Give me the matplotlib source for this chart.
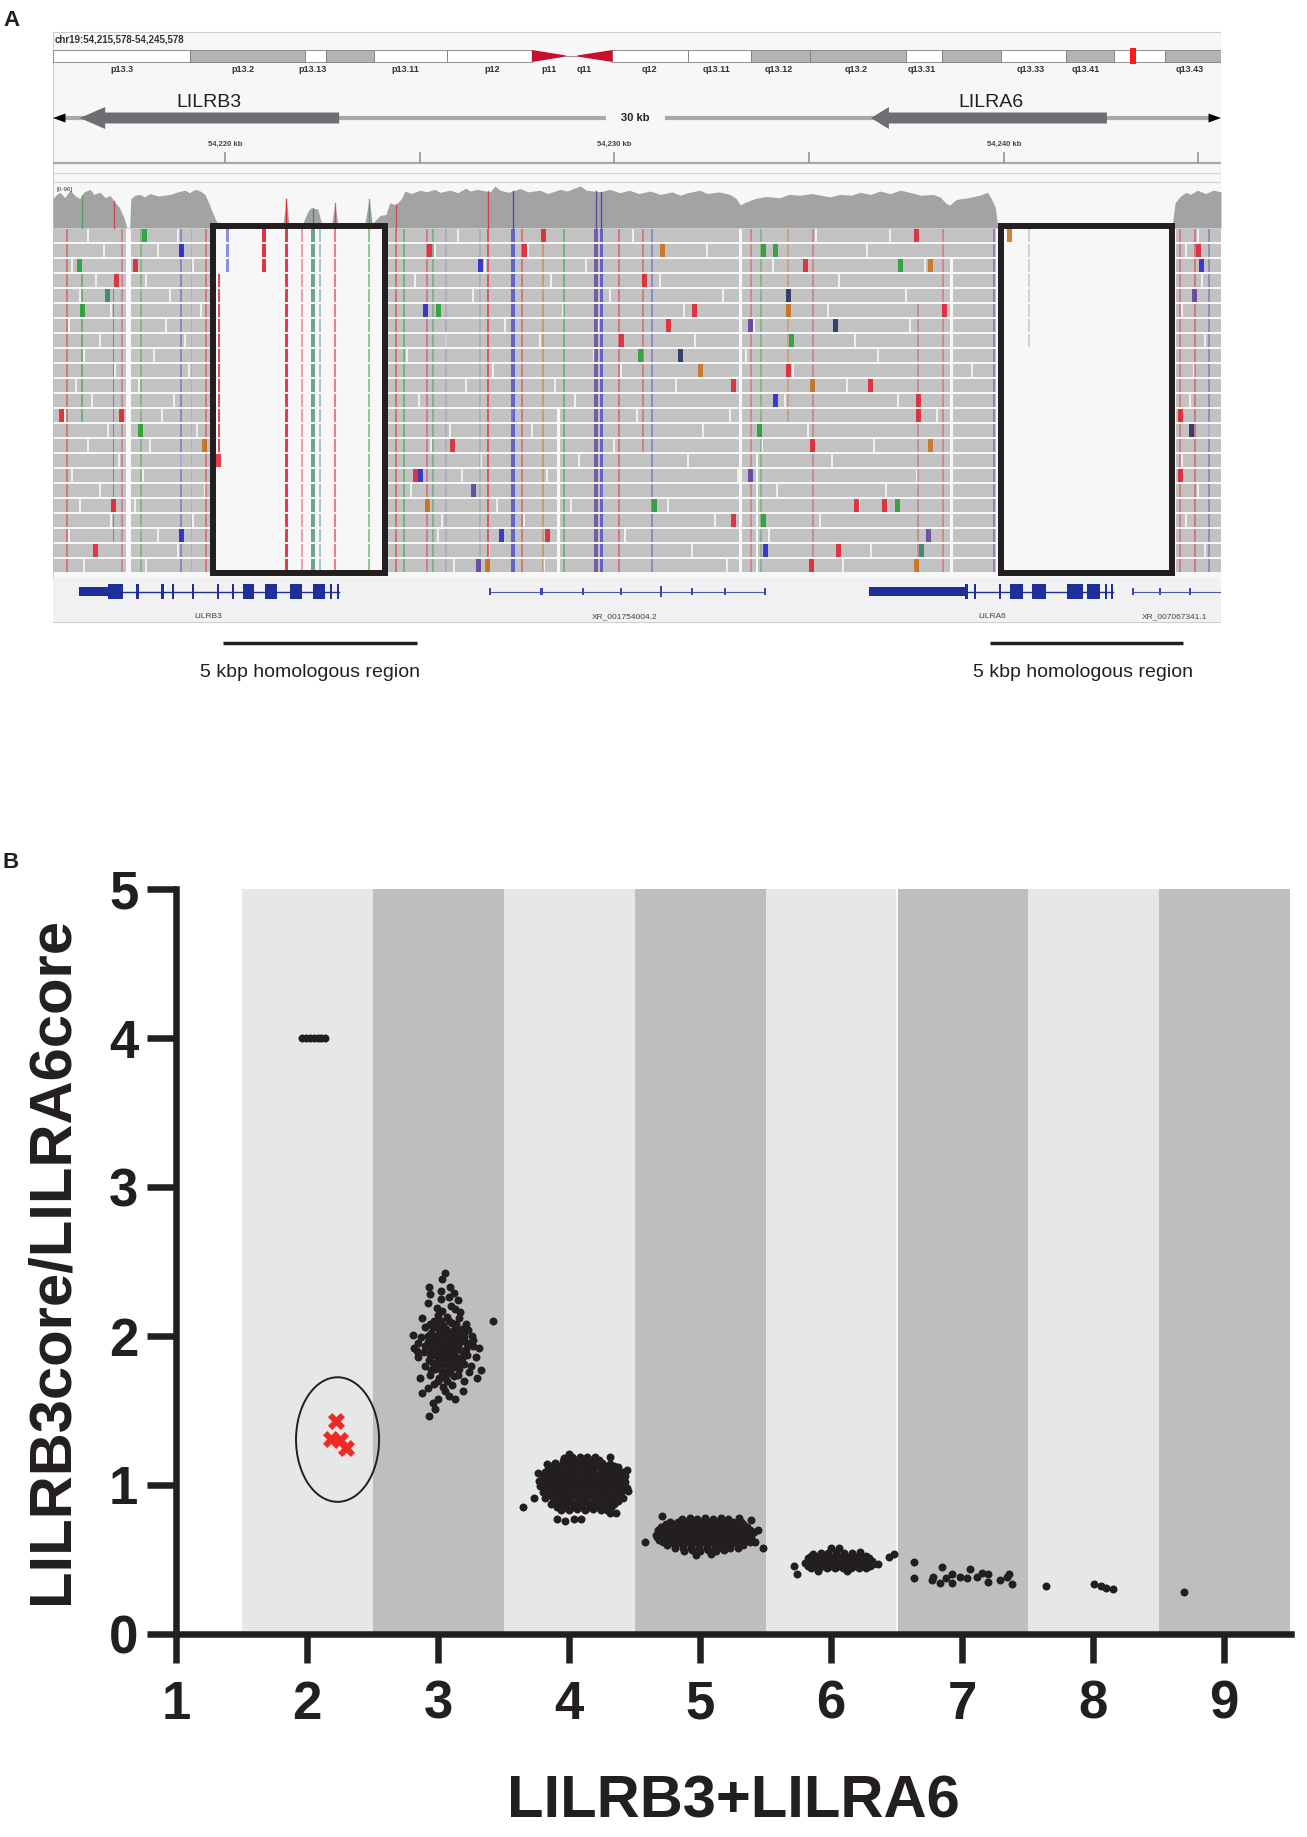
import numpy as np
import matplotlib
matplotlib.use("Agg")
import matplotlib.pyplot as plt
from matplotlib.patches import Rectangle, Polygon, Ellipse

plt.rcParams['font.family'] = ['Liberation Sans', 'DejaVu Sans']

W, H = 1307, 1837
INK = '#231f20'

# ===================== Panel A data (kb from chr19:54,215,578) =====================
region_label = "chr19:54,215,578-54,245,578"
ruler_ticks_kb = [4.422, 9.422, 14.422, 19.422, 24.422, 29.422]
ruler_tick_labels = ["54,220 kb", "", "54,230 kb", "", "54,240 kb", ""]

# ideogram bands as fraction of chromosome 19
ideo_bands = [(0.000, 0.117, 'gneg'), (0.117, 0.216, 'gpos'), (0.216, 0.234, 'gneg'),
              (0.234, 0.275, 'gpos'), (0.275, 0.337, 'gneg'), (0.337, 0.410, 'gneg'),
              (0.479, 0.544, 'gneg'), (0.544, 0.598, 'gneg'), (0.598, 0.648, 'gpos'),
              (0.648, 0.730, 'gpos'), (0.730, 0.761, 'gneg'), (0.761, 0.812, 'gpos'),
              (0.812, 0.867, 'gneg'), (0.867, 0.908, 'gpos'), (0.908, 0.952, 'gneg'),
              (0.952, 1.000, 'gpos')]
centromere = (0.410, 0.444, 0.479)
current_view = (0.922, 0.927)
ideo_label_names = ['p13.3', 'p13.2', 'p13.13', 'p13.11', 'p12', 'p11', 'q11', 'q12',
                    'q13.11', 'q13.12', 'q13.2', 'q13.31', 'q13.33', 'q13.41', 'q13.43']
ideo_label_pos = [0.059, 0.163, 0.222, 0.302, 0.376, 0.425, 0.455, 0.511,
                  0.568, 0.621, 0.688, 0.744, 0.837, 0.884, 0.973]

# gene arrows: name, tail, head base, tip, label position
arrow_genes = [('LILRB3', 7.35, 1.34, 0.69, 4.01), ('LILRA6', 27.07, 21.47, 21.01, 24.10)]

# gene models
gene_names = ['LILRB3', 'XR_001754004.2', 'LILRA6', 'XR_007067341.1']
gene_spans = [(0.67, 7.35), (11.23, 18.29), (20.96, 27.23), (27.74, 30.0)]
gene_label_kb = [3.98, 14.69, 24.12, 28.82]
gene_utrs = [[(0.67, 1.41)], [], [(20.96, 23.43)], []]
gene_exons = [[(1.41, 1.80), (2.14, 2.20), (2.78, 2.84), (3.05, 3.11), (3.57, 3.63), (4.21, 4.27),
               (4.59, 4.65), (4.88, 5.16), (5.45, 5.75), (6.09, 6.40), (6.67, 6.99), (7.11, 7.17),
               (7.29, 7.35)],
              [],
              [(23.43, 23.49), (23.65, 23.71), (24.30, 24.36), (24.58, 24.92), (25.15, 25.51),
               (26.05, 26.46), (26.56, 26.89), (27.02, 27.08), (27.17, 27.23)],
              []]
nc_exons = [[], [11.23, 12.55, 13.61, 14.59, 15.61, 16.41, 17.26, 18.29], [], [27.74, 28.44, 29.20]]

homolog_regions = [(4.37, 9.35), (24.07, 29.03)]
homolog_text_kb = [6.60, 26.46]
boxes_kb = [(4.12, 8.53), (24.34, 28.73)]

# coverage profile (kb, fraction of track height)
cov_kb = [0, 0.1, 0.18, 0.3, 0.44, 0.55, 0.69, 0.8, 0.95, 1.05, 1.21, 1.35, 1.46, 1.6, 1.7, 1.82,
          1.90, 1.97, 2.0, 2.1, 2.23, 2.35, 2.49, 2.7, 3.01, 3.2, 3.39, 3.5, 3.65, 3.78, 3.90, 4.0,
          4.08, 4.2, 4.35, 4.6, 5.3, 5.42, 5.5, 5.9, 5.99, 6.07, 6.4, 6.55, 6.62, 6.80, 6.9, 7.15,
          7.24, 7.32, 8.0, 8.12, 8.2, 8.4, 8.55, 8.65, 8.8, 8.95, 9.04, 9.2, 9.43, 9.6, 9.8, 9.94,
          10.2, 10.4, 10.6, 10.71, 10.9, 11.23, 11.35, 11.48, 11.7, 12.0, 12.2, 12.51, 12.7, 13.02,
          13.2, 13.54, 13.7, 14.05, 14.3, 14.56, 14.8, 15.05, 15.34, 15.6, 15.9, 16.11, 16.3, 16.62,
          16.8, 17.1, 17.39, 17.55, 17.65, 17.8, 18.03, 18.3, 18.67, 18.9, 19.19, 19.5, 19.96, 20.2,
          20.5, 20.73, 21.0, 21.24, 21.5, 21.76, 22.0, 22.3, 22.6, 22.78, 22.95, 23.04, 23.2, 23.5,
          23.8, 24.0, 24.1, 24.2, 24.27, 28.74, 28.82, 28.95, 29.1, 29.21, 29.4, 29.6, 29.8, 30.0]
cov_frac = [0.70, 0.80, 0.85, 0.72, 0.90, 0.78, 0.70, 0.86, 0.92, 0.80, 0.85, 0.72, 0.78, 0.60, 0.50, 0.25,
            0.0, 0.02, 0.70, 0.78, 0.80, 0.74, 0.82, 0.76, 0.80, 0.86, 0.90, 0.84, 0.92, 0.88, 0.80, 0.60,
            0.40, 0.15, 0.05, 0.02, 0.02, 0.10, 0.02, 0.03, 0.68, 0.03, 0.08, 0.40, 0.48, 0.45, 0.10, 0.05,
            0.59, 0.05, 0.05, 0.70, 0.10, 0.30, 0.32, 0.60, 0.55, 0.70, 0.88, 0.82, 0.90, 0.86, 0.92, 0.85,
            0.90, 0.84, 0.95, 0.88, 0.92, 0.86, 1.00, 0.90, 0.85, 0.94, 0.86, 0.90, 0.82, 0.92,
            0.88, 1.00, 0.90, 0.86, 0.92, 0.84, 0.90, 0.82, 0.88, 0.80, 0.86, 0.78, 0.84, 0.90,
            0.82, 0.86, 0.80, 0.70, 0.55, 0.62, 0.70, 0.75, 0.72, 0.80, 0.78, 0.82, 0.74, 0.80,
            0.78, 0.85, 0.80, 0.88, 0.82, 0.90, 0.85, 0.78, 0.80, 0.74, 0.58, 0.55, 0.68, 0.72,
            0.78, 0.85, 0.70, 0.50, 0.0, 0.0, 0.60, 0.75, 0.85, 0.80, 0.90, 0.82, 0.90, 0.86]

n_rows = 23
read_spans = [(0.0, 4.10), (8.60, 24.22), (28.84, 30.0)]
read_gaps = [(1.88, 2.00, 0, 22), (12.95, 13.02, 12, 22), (17.62, 17.70, 0, 22),
             (18.05, 18.12, 15, 22), (23.05, 23.12, 2, 22)]
row_breaks = [
    [0.9, 3.2, 10.4, 14.9, 19.6, 21.5, 29.4], [1.3, 2.7, 9.8, 12.2, 16.8, 20.9, 29.1],
    [0.5, 3.6, 11.1, 13.7, 18.5, 22.4], [1.1, 2.4, 9.3, 12.8, 15.6, 20.2, 29.5],
    [0.7, 3.0, 10.8, 14.3, 17.2, 21.9], [1.5, 3.8, 9.6, 13.1, 16.2, 19.9, 29.0],
    [0.4, 2.9, 11.6, 14.0, 18.0, 22.0], [1.2, 3.4, 10.1, 12.5, 16.5, 20.6, 29.6],
    [0.8, 2.6, 9.1, 13.9, 17.8, 21.2], [1.6, 3.5, 11.3, 14.6, 19.0, 23.6, 29.3],
    [0.6, 2.2, 10.6, 12.9, 16.0, 20.4], [1.0, 3.1, 9.4, 13.4, 18.8, 21.7, 29.2],
    [0.3, 2.8, 11.8, 15.0, 17.4, 22.7], [1.4, 3.7, 10.2, 12.3, 16.7, 19.4, 29.7],
    [0.9, 2.5, 9.7, 14.4, 18.2, 21.1], [1.7, 3.3, 11.0, 13.5, 16.3, 20.0, 29.0],
    [0.5, 2.3, 10.5, 12.7, 17.6, 22.2], [1.2, 3.9, 9.2, 14.1, 18.6, 21.4, 29.4],
    [0.7, 2.1, 11.4, 13.3, 15.8, 20.7], [1.5, 3.6, 10.0, 12.1, 17.0, 19.7, 29.1],
    [0.4, 2.7, 9.9, 14.7, 18.4, 22.5], [1.1, 3.2, 11.2, 13.0, 16.4, 21.0, 29.6],
    [0.8, 2.4, 10.3, 12.6, 17.3, 20.3]]

base_colors = {'A': '#1f9e2c', 'C': '#2222cc', 'G': '#c86f10', 'T': '#e01f2d',
               'P': '#5a3c9c', 'N': '#8a8aa0', 'teal': '#2e8070', 'navy': '#1f2a5a'}

# mismatch columns: kb, base, first row, last row, width px, opacity
mm_columns = [
    (0.36, 'T', 0, 22, 1.5, 0.45), (0.75, 'A', 3, 12, 2, 0.5), (1.56, 'T', 4, 20, 1.5, 0.6),
    (1.77, 'T', 0, 22, 2, 0.35), (2.26, 'A', 0, 22, 2, 0.35), (3.29, 'C', 0, 22, 1.5, 0.35),
    (3.56, 'N', 0, 22, 1.5, 0.3), (3.93, 'T', 0, 22, 2, 0.45), (4.26, 'T', 3, 14, 2.5, 0.8),
    (4.47, 'C', 0, 2, 3, 0.5), (5.42, 'T', 0, 2, 4, 0.9), (5.99, 'T', 0, 22, 3, 0.85),
    (6.40, 'T', 0, 22, 2, 0.4), (6.69, 'teal', 0, 22, 4, 0.7), (6.86, 'teal', 0, 22, 2, 0.4),
    (7.24, 'T', 0, 22, 2.5, 0.55), (8.12, 'A', 0, 22, 2.5, 0.5), (8.81, 'T', 0, 22, 2, 0.5),
    (9.02, 'A', 0, 22, 2, 0.45), (9.61, 'T', 0, 22, 2, 0.4), (9.77, 'A', 0, 22, 2, 0.4),
    (10.10, 'N', 0, 22, 2, 0.35), (10.97, 'N', 0, 22, 2, 0.35), (11.17, 'T', 0, 22, 2.5, 0.65),
    (11.81, 'C', 0, 22, 4, 0.6), (12.05, 'T', 0, 22, 2, 0.45), (12.59, 'G', 0, 22, 2, 0.45),
    (13.13, 'A', 0, 22, 2, 0.45), (13.94, 'P', 0, 22, 4, 0.75), (14.08, 'C', 0, 22, 3, 0.6),
    (14.54, 'T', 0, 22, 2, 0.45), (15.16, 'T', 0, 14, 2, 0.4), (15.39, 'C', 0, 22, 2, 0.35),
    (17.92, 'T', 0, 22, 2, 0.35), (18.19, 'A', 0, 22, 2, 0.35), (18.88, 'G', 0, 12, 2, 0.35),
    (19.52, 'T', 0, 22, 2, 0.35), (22.22, 'T', 5, 22, 2, 0.35), (22.86, 'T', 0, 22, 2, 0.35),
    (24.16, 'P', 0, 22, 2, 0.45), (25.07, 'N', 0, 7, 2, 0.35), (28.95, 'T', 0, 22, 2, 0.4),
    (29.32, 'T', 0, 22, 2, 0.45), (29.69, 'P', 0, 22, 2, 0.4)]

# single mismatches: kb, row, base
mm_single = [
    (2.36, 0, 'A'), (3.29, 1, 'C'), (2.11, 2, 'T'), (0.69, 2, 'A'), (1.62, 3, 'T'), (1.39, 4, 'teal'),
    (0.75, 5, 'A'), (9.56, 5, 'C'), (9.89, 5, 'A'), (10.97, 2, 'C'), (9.66, 1, 'T'), (12.10, 1, 'T'),
    (12.59, 0, 'T'), (15.18, 3, 'T'), (14.59, 7, 'T'), (15.08, 8, 'A'), (1.77, 12, 'T'), (0.21, 12, 'T'),
    (2.26, 13, 'A'), (3.88, 14, 'G'), (10.25, 14, 'T'), (4.26, 15, 'T'), (9.45, 16, 'C'), (9.30, 16, 'T'),
    (10.79, 17, 'P'), (1.56, 18, 'T'), (9.61, 18, 'G'), (3.29, 20, 'C'), (11.51, 20, 'C'), (12.69, 20, 'T'),
    (1.08, 21, 'T'), (10.92, 22, 'P'), (11.17, 22, 'G'),
    (22.17, 0, 'T'), (15.66, 1, 'G'), (18.24, 1, 'A'), (18.56, 1, 'A'), (19.32, 2, 'T'), (21.78, 2, 'A'),
    (22.55, 2, 'G'), (18.88, 4, 'navy'), (16.47, 5, 'T'), (18.88, 5, 'G'), (22.91, 5, 'T'), (15.82, 6, 'T'),
    (17.92, 6, 'P'), (20.11, 6, 'navy'), (18.98, 7, 'A'), (16.13, 8, 'navy'), (16.62, 9, 'G'),
    (18.88, 9, 'T'), (17.49, 10, 'T'), (19.52, 10, 'G'), (20.99, 10, 'T'), (18.57, 11, 'C'),
    (22.22, 11, 'T'), (22.22, 12, 'T'), (18.14, 13, 'A'), (19.52, 14, 'T'), (22.55, 14, 'G'),
    (17.92, 16, 'P'), (15.44, 18, 'A'), (20.65, 18, 'T'), (21.36, 18, 'T'), (21.68, 18, 'A'),
    (18.24, 19, 'A'), (17.49, 19, 'T'), (22.49, 20, 'P'), (18.29, 21, 'C'), (20.18, 21, 'T'),
    (22.32, 21, 'teal'), (19.47, 22, 'T'), (22.17, 22, 'G'),
    (29.43, 1, 'T'), (29.49, 2, 'C'), (29.32, 4, 'P'), (28.95, 12, 'T'), (28.95, 16, 'T'),
    (29.25, 13, 'navy'), (24.58, 0, 'G')]

# ===================== Panel B data =====================
pt_4 = [(1.96, 4.0), (1.99, 4.0), (2.02, 4.0), (2.05, 4.0), (2.08, 4.0), (2.11, 4.0), (2.14, 4.0)]
red_x = [(2.22, 1.43), (2.18, 1.31), (2.25, 1.30), (2.30, 1.25)]
c3 = [(3.05, 2.42), (3.03, 2.38), (2.93, 2.33), (2.94, 2.28), (3.02, 2.30), (3.12, 2.29), (3.08, 2.26),
      (3.15, 2.24), (2.92, 2.22), (3.03, 2.17), (3.42, 2.10), (2.81, 2.01), (2.82, 1.92), (3.31, 1.92),
      (3.33, 1.77), (3.30, 1.72), (2.88, 1.62), (3.19, 1.63), (2.96, 1.55), (2.93, 1.46), (3.05, 1.63),
      (2.85, 1.86), (3.23, 2.04), (3.21, 2.08),
      (3.10, 2.20), (3.13, 2.18), (3.00, 2.14), (3.07, 2.13), (3.16, 2.12), (2.97, 2.10), (3.11, 2.09),
      (3.04, 2.07), (2.90, 2.06), (3.18, 2.05), (3.01, 2.04), (3.08, 2.03), (2.95, 2.02), (3.14, 2.01),
      (3.26, 2.00), (2.87, 1.99), (3.05, 1.99), (3.11, 1.98), (2.98, 1.97), (3.20, 1.97), (2.92, 1.96),
      (3.03, 1.95), (3.09, 1.95), (3.15, 1.94), (2.85, 1.95), (3.00, 1.93), (3.27, 1.93), (2.95, 1.92),
      (3.06, 1.91), (3.12, 1.90), (3.18, 1.90), (2.89, 1.89), (3.02, 1.89), (3.08, 1.88), (2.97, 1.87),
      (3.22, 1.87), (3.14, 1.86), (3.04, 1.85), (2.93, 1.84), (3.10, 1.84), (3.00, 1.82), (3.17, 1.82),
      (3.06, 1.81), (2.90, 1.80), (3.12, 1.79), (3.25, 1.80), (2.98, 1.78), (3.03, 1.76), (3.09, 1.75),
      (3.15, 1.74), (2.94, 1.74), (3.01, 1.72), (3.07, 1.70), (3.20, 1.70), (2.97, 1.68), (3.11, 1.67),
      (3.04, 1.66), (2.92, 1.65), (3.08, 1.60), (3.00, 1.58), (3.13, 1.58), (2.98, 1.51), (3.02, 2.25),
      (3.09, 2.33), (2.99, 2.19), (3.17, 2.16), (2.88, 2.12), (3.22, 1.95), (3.29, 1.86), (2.84, 1.90),
      (3.24, 1.76), (3.16, 1.78), (2.86, 1.72), (3.27, 1.97), (2.96, 2.06), (3.13, 2.05), (3.06, 2.00),
      (3.00, 1.99), (3.10, 1.93), (3.05, 1.87), (2.99, 1.93), (3.07, 1.96), (3.12, 2.01), (3.02, 2.02),
      (3.02, 2.10), (3.08, 2.10), (3.14, 2.08), (2.94, 2.08), (3.00, 2.06), (3.06, 2.05), (3.12, 2.04),
      (3.18, 2.02), (2.92, 2.00), (2.98, 2.00), (3.04, 2.02), (3.09, 2.00), (3.15, 1.99), (3.20, 2.00),
      (2.95, 1.96), (3.01, 1.96), (3.05, 1.94), (3.12, 1.95), (3.17, 1.96), (2.90, 1.93), (2.97, 1.90),
      (3.03, 1.91), (3.09, 1.91), (3.15, 1.91), (3.21, 1.91), (2.94, 1.88), (3.00, 1.86), (3.06, 1.85),
      (3.12, 1.86), (3.18, 1.85), (2.96, 1.82), (3.02, 1.80), (3.08, 1.79), (3.14, 1.81), (3.20, 1.81),
      (2.95, 1.77), (3.06, 1.76), (3.12, 1.73), (3.00, 1.70), (3.05, 1.72)]
c4 = [(4.00, 1.21), (4.02, 1.19), (4.08, 1.19), (4.14, 1.19), (4.20, 1.19), (4.31, 1.19), (3.96, 1.18),
      (3.89, 1.15), (3.95, 1.16), (4.01, 1.15), (4.07, 1.16), (4.13, 1.15), (4.19, 1.16), (4.25, 1.15),
      (4.31, 1.14), (3.83, 1.14),
      (3.84, 1.11), (3.90, 1.11), (3.96, 1.12), (4.02, 1.11), (4.08, 1.12), (4.14, 1.11), (4.20, 1.12),
      (4.26, 1.11), (4.32, 1.11), (4.37, 1.12), (4.44, 1.10),
      (3.79, 1.07), (3.85, 1.07), (3.91, 1.08), (3.97, 1.07), (4.03, 1.08), (4.09, 1.07), (4.15, 1.08),
      (4.21, 1.07), (4.27, 1.08), (4.33, 1.07), (4.39, 1.07), (4.43, 1.06), (3.76, 1.08),
      (3.77, 1.03), (3.83, 1.03), (3.89, 1.04), (3.95, 1.03), (4.01, 1.04), (4.07, 1.03), (4.13, 1.04),
      (4.19, 1.03), (4.25, 1.04), (4.31, 1.03), (4.37, 1.03), (4.43, 1.02),
      (3.78, 0.99), (3.84, 0.99), (3.90, 1.00), (3.96, 0.99), (4.02, 1.00), (4.08, 0.99), (4.14, 1.00),
      (4.20, 0.99), (4.26, 1.00), (4.32, 0.99), (4.38, 0.99), (4.44, 0.98), (4.45, 0.96),
      (3.80, 0.95), (3.86, 0.95), (3.92, 0.96), (3.98, 0.95), (4.04, 0.96), (4.10, 0.95), (4.16, 0.96),
      (4.22, 0.95), (4.28, 0.96), (4.34, 0.95), (4.40, 0.95), (3.73, 0.91),
      (3.82, 0.91), (3.88, 0.91), (3.94, 0.92), (4.00, 0.91), (4.06, 0.92), (4.12, 0.91), (4.18, 0.92),
      (4.24, 0.91), (4.30, 0.92), (4.36, 0.91), (4.41, 0.91),
      (3.86, 0.87), (3.92, 0.87), (3.98, 0.88), (4.04, 0.87), (4.10, 0.88), (4.16, 0.87), (4.22, 0.88),
      (4.28, 0.87), (4.34, 0.87),
      (3.94, 0.83), (4.00, 0.83), (4.06, 0.84), (4.12, 0.83), (4.18, 0.84), (4.24, 0.83), (4.29, 0.83),
      (3.65, 0.85), (3.91, 0.77), (3.97, 0.76), (4.04, 0.77), (4.09, 0.77), (4.31, 0.81), (4.36, 0.81),
      (3.99, 1.17), (4.05, 1.17), (4.11, 1.17), (4.17, 1.17), (4.23, 1.17),
      (3.86, 1.13), (3.92, 1.13), (3.98, 1.13), (4.04, 1.13), (4.10, 1.13), (4.16, 1.13), (4.22, 1.13),
      (4.28, 1.13), (4.34, 1.13),
      (3.82, 1.09), (3.88, 1.09), (3.94, 1.09), (4.00, 1.09), (4.06, 1.09), (4.12, 1.09), (4.18, 1.09),
      (4.24, 1.09), (4.30, 1.09), (4.36, 1.09), (4.41, 1.09),
      (3.80, 1.05), (3.86, 1.05), (3.92, 1.05), (3.98, 1.05), (4.04, 1.05), (4.10, 1.05), (4.16, 1.05),
      (4.22, 1.05), (4.28, 1.05), (4.34, 1.05), (4.40, 1.05),
      (3.81, 1.01), (3.87, 1.01), (3.93, 1.01), (3.99, 1.01), (4.05, 1.01), (4.11, 1.01), (4.17, 1.01),
      (4.23, 1.01), (4.29, 1.01), (4.35, 1.01), (4.41, 1.01),
      (3.83, 0.97), (3.89, 0.97), (3.95, 0.97), (4.01, 0.97), (4.07, 0.97), (4.13, 0.97), (4.19, 0.97),
      (4.25, 0.97), (4.31, 0.97), (4.37, 0.97), (4.42, 0.97),
      (3.85, 0.93), (3.91, 0.93), (3.97, 0.93), (4.03, 0.93), (4.09, 0.93), (4.15, 0.93), (4.21, 0.93),
      (4.27, 0.93), (4.33, 0.93), (4.38, 0.93),
      (3.89, 0.89), (3.95, 0.89), (4.01, 0.89), (4.07, 0.89), (4.13, 0.89), (4.19, 0.89), (4.25, 0.89),
      (4.31, 0.89), (4.37, 0.89),
      (3.91, 0.85), (3.97, 0.85), (4.03, 0.85), (4.09, 0.85), (4.15, 0.85), (4.21, 0.85), (4.27, 0.85),
      (4.32, 0.85)]
c5 = [(4.71, 0.79), (4.86, 0.77), (4.92, 0.78), (4.98, 0.77), (5.04, 0.78), (5.10, 0.77), (5.16, 0.78),
      (5.21, 0.77), (5.30, 0.78), (5.39, 0.765),
      (4.70, 0.72), (4.74, 0.735), (4.80, 0.74), (4.86, 0.735), (4.92, 0.74), (4.98, 0.735), (5.04, 0.74),
      (5.10, 0.735), (5.16, 0.74), (5.22, 0.735), (5.28, 0.74), (5.33, 0.735),
      (4.68, 0.70), (4.74, 0.70), (4.80, 0.705), (4.86, 0.70), (4.92, 0.705), (4.98, 0.70), (5.04, 0.705),
      (5.10, 0.70), (5.16, 0.705), (5.22, 0.70), (5.28, 0.705), (5.34, 0.70), (5.38, 0.70), (5.44, 0.70),
      (4.66, 0.665), (4.72, 0.665), (4.78, 0.67), (4.84, 0.665), (4.90, 0.67), (4.96, 0.665), (5.02, 0.67),
      (5.08, 0.665), (5.14, 0.67), (5.20, 0.665), (5.26, 0.67), (5.32, 0.665), (5.38, 0.665),
      (4.58, 0.62), (4.69, 0.63), (4.75, 0.635), (4.81, 0.63), (4.87, 0.635), (4.93, 0.63), (4.99, 0.635),
      (5.05, 0.63), (5.11, 0.635), (5.17, 0.63), (5.23, 0.635), (5.29, 0.63), (5.35, 0.63), (5.42, 0.62),
      (4.75, 0.595), (4.81, 0.60), (4.87, 0.595), (4.93, 0.60), (4.99, 0.595), (5.05, 0.60), (5.11, 0.595),
      (5.17, 0.60), (5.23, 0.595), (5.29, 0.60), (5.33, 0.595), (5.48, 0.58),
      (4.88, 0.56), (4.94, 0.565), (5.00, 0.56), (5.06, 0.565), (5.12, 0.56), (5.18, 0.565), (4.97, 0.53),
      (5.08, 0.54),
      (4.77, 0.75), (4.83, 0.75), (4.89, 0.75), (4.95, 0.75), (5.01, 0.75), (5.07, 0.75), (5.13, 0.75),
      (5.19, 0.75), (5.25, 0.75), (5.31, 0.75),
      (4.71, 0.72), (4.77, 0.72), (4.83, 0.72), (4.89, 0.72), (4.95, 0.72), (5.01, 0.72), (5.07, 0.72),
      (5.13, 0.72), (5.19, 0.72), (5.25, 0.72), (5.31, 0.72), (5.36, 0.72),
      (4.69, 0.685), (4.75, 0.685), (4.81, 0.685), (4.87, 0.685), (4.93, 0.685), (4.99, 0.685),
      (5.05, 0.685), (5.11, 0.685), (5.17, 0.685), (5.23, 0.685), (5.29, 0.685), (5.35, 0.685),
      (5.41, 0.685),
      (4.67, 0.65), (4.73, 0.65), (4.79, 0.65), (4.85, 0.65), (4.91, 0.65), (4.97, 0.65), (5.03, 0.65),
      (5.09, 0.65), (5.15, 0.65), (5.21, 0.65), (5.27, 0.65), (5.33, 0.65), (5.39, 0.65),
      (4.72, 0.615), (4.78, 0.615), (4.84, 0.615), (4.90, 0.615), (4.96, 0.615), (5.02, 0.615),
      (5.08, 0.615), (5.14, 0.615), (5.20, 0.615), (5.26, 0.615), (5.32, 0.615), (5.38, 0.615),
      (4.81, 0.58), (4.87, 0.58), (4.93, 0.58), (4.99, 0.58), (5.05, 0.58), (5.11, 0.58), (5.17, 0.58),
      (5.23, 0.58), (5.29, 0.58)]
c6 = [(6.00, 0.58), (6.06, 0.575),
      (5.86, 0.54), (5.92, 0.545), (5.98, 0.545), (6.04, 0.55), (6.10, 0.545), (6.16, 0.545), (6.22, 0.55),
      (5.82, 0.51), (5.88, 0.51), (5.94, 0.515), (6.00, 0.51), (6.06, 0.515), (6.12, 0.51), (6.18, 0.515),
      (6.24, 0.51), (6.29, 0.51),
      (5.80, 0.475), (5.86, 0.475), (5.92, 0.48), (5.98, 0.475), (6.04, 0.48), (6.10, 0.475), (6.16, 0.48),
      (6.22, 0.475), (6.28, 0.475), (6.32, 0.47), (6.36, 0.47),
      (5.85, 0.44), (5.91, 0.44), (5.97, 0.445), (6.03, 0.44), (6.09, 0.445), (6.15, 0.44), (6.21, 0.445),
      (6.27, 0.44), (5.90, 0.42), (6.12, 0.425), (5.72, 0.456), (5.74, 0.40), (6.44, 0.52), (6.48, 0.54),
      (5.85, 0.525), (5.91, 0.525), (5.97, 0.525), (6.03, 0.525), (6.09, 0.525), (6.15, 0.525),
      (6.21, 0.525), (6.27, 0.525),
      (5.83, 0.49), (5.89, 0.49), (5.95, 0.49), (6.01, 0.49), (6.07, 0.49), (6.13, 0.49), (6.19, 0.49),
      (6.25, 0.49), (6.31, 0.49),
      (5.82, 0.455), (5.88, 0.455), (5.94, 0.455), (6.00, 0.455), (6.06, 0.455), (6.12, 0.455),
      (6.18, 0.455), (6.24, 0.455), (6.30, 0.455)]
c7 = [(6.63, 0.485), (6.63, 0.375), (6.78, 0.385), (6.77, 0.36), (6.85, 0.45), (6.83, 0.345),
      (6.88, 0.375), (6.92, 0.40), (6.92, 0.34), (6.98, 0.38), (7.04, 0.375), (7.06, 0.435),
      (7.11, 0.385), (7.15, 0.41), (7.20, 0.40), (7.20, 0.35), (7.29, 0.36), (7.34, 0.38),
      (7.36, 0.405), (7.38, 0.335)]
c8 = [(7.64, 0.32), (8.01, 0.335), (8.06, 0.32), (8.10, 0.31), (8.15, 0.305)]
c9 = [(8.69, 0.285)]

x_ticks = [1, 2, 3, 4, 5, 6, 7, 8, 9]
y_ticks = [0, 1, 2, 3, 4, 5]
band_centers = [2, 3, 4, 5, 6, 7, 8, 9]

# ===================== Figure =====================
fig = plt.figure(figsize=(W / 100, H / 100), dpi=100)
fig.patch.set_facecolor('white')


def fx(px):
    return px / W


def fy(px):
    return 1 - px / H


# ---------- Panel A ----------
axa = fig.add_axes([53 / W, 1 - 700 / H, 1168 / W, 700 / H])
axa.set_xlim(0, 30)
axa.set_ylim(700, 0)
axa.axis('off')

BG = '#f7f7f7'
axa.add_patch(Rectangle((0, 32), 30, 590, fc=BG, ec='#cfcfcf', lw=0.8, zorder=0))
axa.text(0.05, 39, region_label, fontsize=7, fontweight='bold', color='#333333', va='center', ha='left')

# ideogram
IY0, IY1 = 50, 62
for s, e, st in ideo_bands:
    axa.add_patch(Rectangle((s * 30, IY0), (e - s) * 30, IY1 - IY0,
                            fc='#b3b3b3' if st == 'gpos' else 'white', ec='#7f7f7f', lw=0.6, zorder=2))
c0, cm, c1 = [v * 30 for v in centromere]
axa.add_patch(Polygon([(c0, IY0), (cm - 0.15, (IY0 + IY1) / 2 - 0.6), (cm - 0.15, (IY0 + IY1) / 2 + 0.6), (c0, IY1)],
                      closed=True, fc='#c8102e', ec='none', zorder=2))
axa.add_patch(Polygon([(c1, IY0), (cm + 0.15, (IY0 + IY1) / 2 - 0.6), (cm + 0.15, (IY0 + IY1) / 2 + 0.6), (c1, IY1)],
                      closed=True, fc='#c8102e', ec='none', zorder=2))
axa.plot([cm - 0.15, cm + 0.15], [(IY0 + IY1) / 2] * 2, color='#999999', lw=0.8, zorder=2)
axa.add_patch(Rectangle((current_view[0] * 30, IY0 - 2), (current_view[1] - current_view[0]) * 30, IY1 - IY0 + 4,
                        fc='#ff1a1a', ec='none', zorder=3))
for name, p in zip(ideo_label_names, ideo_label_pos):
    axa.text(p * 30, 69, name, fontsize=6.5, fontweight='bold', color='#333333', ha='center', va='center')

# gene arrows track
AY = 118
axa.plot([0.3, 14.2], [AY, AY], color='#a9a9a9', lw=3, solid_capstyle='butt', zorder=2)
axa.plot([15.72, 29.7], [AY, AY], color='#a9a9a9', lw=3, solid_capstyle='butt', zorder=2)
axa.add_patch(Polygon([(0, AY), (0.32, AY - 4.5), (0.32, AY + 4.5)], closed=True, fc='black', ec='none', zorder=3))
axa.add_patch(Polygon([(30, AY), (29.68, AY - 4.5), (29.68, AY + 4.5)], closed=True, fc='black', ec='none', zorder=3))
axa.text(14.96, AY, '30 kb', fontsize=8, fontweight='bold', color='#222222', ha='center', va='center')
for name, tail, hb, tip, lab in arrow_genes:
    poly = [(tail, AY - 5.5), (hb, AY - 5.5), (hb, AY - 11), (tip, AY), (hb, AY + 11), (hb, AY + 5.5), (tail, AY + 5.5)]
    axa.add_patch(Polygon(poly, closed=True, fc='#6d6e71', ec='none', zorder=3))
    axa.text(lab, 107, name, fontsize=14, color='#231f20', ha='center', va='baseline')

# ruler
axa.plot([0, 30], [163, 163], color='#a8a8a8', lw=1.6, zorder=2)
axa.vlines(ruler_ticks_kb, 152, 163, color='#8c8c8c', lw=1.1, zorder=2)
for t, lab in zip(ruler_ticks_kb, ruler_tick_labels):
    if lab:
        axa.text(t, 144, lab, fontsize=5.5, fontweight='bold', color='#444444', ha='center', va='center')
axa.plot([0, 30], [173, 173], color='#d2d2d2', lw=0.8)
axa.plot([0, 30], [182, 182], color='#d2d2d2', lw=0.8)

# coverage
CB, CH = 228, 42
cov_top = [CB - f * CH for f in cov_frac]
axa.fill_between(cov_kb, cov_top, CB, color='#a3a3a3', lw=0, zorder=2)
axa.text(0.1, 189, '[0-96]', fontsize=4.5, color='#333333', ha='left', va='center', zorder=3)
for kb, b, r0, r1, wpx, al in mm_columns:
    if al >= 0.5:
        h = float(np.interp(kb, cov_kb, cov_frac)) * CH
        axa.plot([kb, kb], [CB, CB - h], color=base_colors[b], lw=1.0, alpha=min(1, al + 0.1), zorder=3)

# reads
RY0, RP, RH = 229, 15, 13
KBPX = 30 / 1168
for r in range(n_rows):
    y = RY0 + r * RP
    axa.broken_barh([(s, e - s) for s, e in read_spans], (y, RH), facecolors='#c2c2c2', edgecolor='none', zorder=2)
    axa.vlines(row_breaks[r], y, y + RH, color=BG, lw=1.2, zorder=2.5)
for s, e, r0, r1 in read_gaps:
    for r in range(r0, r1 + 1):
        axa.add_patch(Rectangle((s, RY0 + r * RP), e - s, RH, fc=BG, ec='none', zorder=2.6))
for kb, b, r0, r1, wpx, al in mm_columns:
    w = wpx * KBPX
    for r in range(r0, r1 + 1):
        axa.add_patch(Rectangle((kb - w / 2, RY0 + r * RP), w, RH, fc=base_colors[b], ec='none',
                                alpha=al, zorder=3))
for kb, r, b in mm_single:
    w = 5 * KBPX
    axa.add_patch(Rectangle((kb - w / 2, RY0 + r * RP), w, RH, fc=base_colors[b], ec='none',
                            alpha=0.85, zorder=3.2))

# boxes
for s, e in boxes_kb:
    axa.add_patch(Rectangle((s, 226), e - s, 347.5, fill=False, ec=INK, lw=4.3, zorder=5))

# gene models
GY = 592
axa.add_patch(Rectangle((0, 578), 30, 44, fc='#f1f1f1', ec='none', zorder=1))
GC = '#1f2f9a'
for i, name in enumerate(gene_names):
    s, e = gene_spans[i]
    nc = len(nc_exons[i]) > 0
    axa.plot([s, e], [GY, GY], color=GC if not nc else '#4a58ad', lw=1.0 if not nc else 0.8, zorder=3)
    for us, ue in gene_utrs[i]:
        axa.add_patch(Rectangle((us, GY - 4.5), ue - us, 9, fc=GC, ec='none', zorder=3))
    for es, ee in gene_exons[i]:
        axa.add_patch(Rectangle((es, GY - 7.5), ee - es, 15, fc=GC, ec='none', zorder=3))
    for j, ex in enumerate(nc_exons[i]):
        hh = 11 if (name == 'XR_001754004.2' and j == 4) else 7
        axa.add_patch(Rectangle((ex - 0.03, GY - hh / 2), 0.06, hh, fc='#3a48a8', ec='none', zorder=3))
    axa.text(gene_label_kb[i], 617, name, fontsize=6, color='#444444', ha='center', va='center', zorder=3)

# homologous regions
for (s, e), tx in zip(homolog_regions, homolog_text_kb):
    axa.plot([s, e], [643, 643], color=INK, lw=2.5, solid_capstyle='butt', clip_on=False)
    axa.text(tx, 677, '5 kbp homologous region', fontsize=14, color=INK, ha='center', va='baseline')

fig.text(fx(3), fy(26), 'A', fontsize=16, fontweight='bold', color=INK, ha='left', va='baseline')
fig.text(fx(3), fy(868), 'B', fontsize=16, fontweight='bold', color=INK, ha='left', va='baseline')

# ---------- Panel B ----------
LIGHT, DARK = '#e6e7e7', '#bdbec0'
axb = fig.add_axes([176 / W, 1 - 1634 / H, 1115 / W, 745 / H])
axb.set_xlim(1, 9.51)
axb.set_ylim(0, 5)
for k in band_centers:
    axb.axvspan(k - 0.5, k + 0.5, color=LIGHT if k % 2 == 0 else DARK, lw=0, zorder=0)
axb.axvline(6.5, color='white', lw=1.2, zorder=0.5)

for pts in (pt_4, c3, c4, c5, c6, c7, c8, c9):
    xs = [p[0] for p in pts]
    ys = [p[1] for p in pts]
    axb.scatter(xs, ys, s=33, c=INK, linewidths=0, zorder=3)
axb.scatter([p[0] for p in red_x], [p[1] for p in red_x], s=150, marker='X', c='#ee2a24',
            linewidths=0, zorder=4)
axb.add_patch(Ellipse((2.233, 1.305), 0.634, 0.836, fill=False, ec=INK, lw=1.4, zorder=4))

for side in ('top', 'right'):
    axb.spines[side].set_visible(False)
for side in ('left', 'bottom'):
    axb.spines[side].set_linewidth(4.7)
    axb.spines[side].set_color(INK)
    axb.spines[side].set_zorder(5)
axb.set_xticks(x_ticks)
axb.set_yticks(y_ticks)
axb.tick_params(axis='both', direction='out', length=21, width=4.7, color=INK,
                labelsize=38, labelcolor=INK)
axb.tick_params(axis='x', pad=12)
axb.tick_params(axis='y', pad=6)
for lbl in axb.get_xticklabels() + axb.get_yticklabels():
    lbl.set_fontweight('bold')

fig.text(fx(68), fy(1260), 'LILRB3core/LILRA6core', rotation=90, rotation_mode='anchor',
         ha='center', va='baseline', fontsize=43, fontweight='bold', color=INK)
fig.text(fx(733.5), fy(1817), 'LILRB3+LILRA6', ha='center', va='baseline',
         fontsize=43, fontweight='bold', color=INK)

fig.savefig('out.png', dpi=100, facecolor='white')
